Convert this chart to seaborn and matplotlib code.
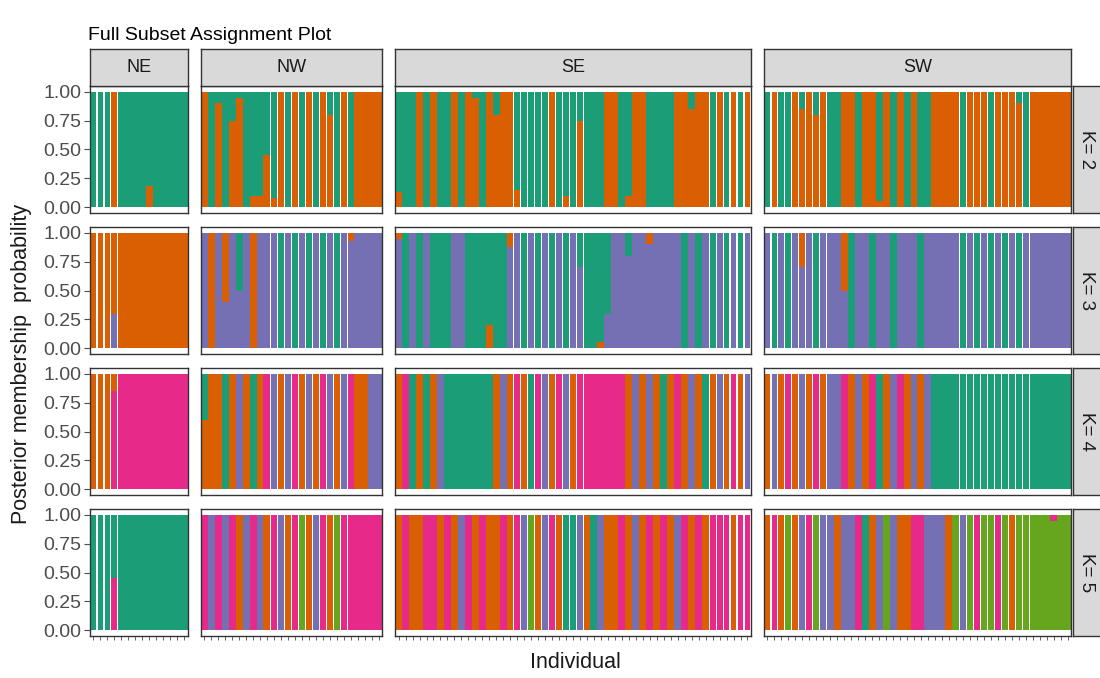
import matplotlib
matplotlib.use("Agg")
import matplotlib.pyplot as plt
import pandas as pd
import seaborn as sns

regions = ["NE", "NW", "SE", "SW"]
k_values = [2, 3, 4, 5]
cluster_colors = ["#1B9E77", "#D95F02", "#7570B3", "#E7298A", "#66A61E"]
y_ticks = [0.0, 0.25, 0.5, 0.75, 1.0]
y_tick_labels = ["0.00", "0.25", "0.50", "0.75", "1.00"]

# Posterior membership of each individual: an int means full membership
# in that cluster, a dict gives the split across clusters.
k2_ne = [1, 1, 1, 2, 1, 1, 1, 1, {1: .82, 2: .18}, 1, 1, 1, 1, 1]
k2_nw = [2, 1, {1: .1, 2: .9}, 1, {1: .25, 2: .75}, {1: .05, 2: .95}, 1,
         {1: .9, 2: .1}, {1: .9, 2: .1}, {1: .55, 2: .45}, {1: .92, 2: .08},
         2, 1, 2, 1, 2, 1, 2, {1: .2, 2: .8}, 1, 2, 1, 2, 2, 2, 2]
k2_se = [{1: .87, 2: .13}, 1, 1, 2, 1, 2, 1, 1, 2, 1, 2, {1: .05, 2: .95}, 1,
         2, {1: .2, 2: .8}, 2, 2, {1: .85, 2: .15}, 1, 1, 1, 1, 2, 1,
         {1: .9, 2: .1}, 1, {1: .25, 2: .75}, 1, 1, 1, 2, 2, 1, {1: .9, 2: .1},
         2, 2, 1, 1, 1, 1, 2, 2, {1: .15, 2: .85}, 2, 2, 1, 2, 1, 2, 1, 2]
k2_sw = [1, 2, 1, 1, 2, {1: .15, 2: .85}, 2, {1: .2, 2: .8}, 2, 1, 1, 2, 2, 1,
         2, 2, {1: .95, 2: .05}, 2, 1, 2, 1, 2, 1, 1, 2, 2, 2, 2, 1, 2, 2, 2, 1,
         2, 2, 2, {1: .1, 2: .9}, 1, 2, 2, 2, 2, 2, 2]

k3_ne = [2, 2, 2, {2: .7, 3: .3}, 2, 2, 2, 2, 2, 2, 2, 2, 2, 2]
k3_nw = [3, 2, 3, {2: .6, 3: .4}, 3, {1: .5, 3: .5}, 3, 2, 3, 3, 3, 1, 3, 1,
         3, 1, 3, 1, 3, 1, 3, {2: .07, 3: .93}, 3, 3, 3, 3]
k3_se = [{2: .05, 3: .95}, 1, 3, 1, 3, 1, 1, 1, 3, 3, 1, 1, 1, {1: .8, 2: .2},
         1, 1, {2: .12, 3: .88}, 3, 1, 3, 1, 3, 1, 3, 1, 3, {1: .3, 3: .7}, 1,
         1, {1: .95, 2: .05}, {1: .7, 3: .3}, 3, 3, {1: .2, 3: .8}, 3, 3,
         {2: .1, 3: .9}, 3, 3, 3, 3, 1, 3, 1, 3, 1, 3, 1, 3, 1, 3]
k3_sw = [3, 1, 3, 1, 3, {2: .3, 3: .7}, 3, 1, 3, 3, 3, {2: .5, 3: .5}, 1, 3,
         3, 1, 3, 3, 1, 3, 3, 3, 1, 3, 3, 3, 3, 3, 1, 3, 1, 3, 1, 3, 1, 3, 1, 3,
         3, 3, 3, 3, 3, 3]

k4_ne = [2, 2, 2, {2: .15, 4: .85}, 4, 4, 4, 4, 4, 4, 4, 4, 4, 4]
k4_nw = [{1: .4, 2: .6}, 2, 2, 1, 2, 3, 2, 1, 2, 4, 3, 2, 3, 4, 2, 3, 2, 4, 3,
         2, 3, 4, 2, 2, 3, 3]
k4_se = [2, 4, 1, 2, 1, 2, 3, 1, 1, 1, 1, 1, 1, 1, 2, 3, 2, 4, 2, 1, 4, 3, 2,
         4, 3, 2, 4, 4, 4, 4, 4, 4, 4, 2, 3, 2, 3, 2, 1, 2, 4, 2, 3, 2, 1, 2, 3,
         2, 4, 2, 3]
k4_sw = [2, 3, 2, 4, 2, 3, 2, 4, 2, 3, 3, 4, 2, 3, 2, 4, 1, 2, 3, 4, 2, 3, 2,
         3, 1, 1, 1, 1, 1, 1, 1, 1, 1, 1, 1, 1, 1, 1, 1, 1, 1, 1, 1, 1]

k5_ne = [1, 1, 1, {1: .55, 4: .45}, 1, 1, 1, 1, 1, 1, 1, 1, 1, 1]
k5_nw = [4, 3, 4, 3, 4, 2, 3, 4, 3, 2, 4, 3, 2, 4, 5, 2, 3, 4, 2, 5, 4, 4, 4,
         4, 4, 4]
k5_se = [2, 4, 2, 2, 4, 4, 2, 4, 2, 3, 4, 2, 4, 2, 2, 4, 2, 4, 3, 5, 2, 3, 4,
         2, 1, 1, 3, 2, 1, 3, 2, 2, 4, 2, 3, 2, 4, 2, 4, 2, 3, 4, 2, 4, 2, 4, 4,
         4, 2, 4, 4]
k5_sw = [2, 4, 2, 5, 2, 3, 4, 5, 3, 3, 2, 3, 3, 4, 1, 2, 3, 5, 3, 2, 2, 4, 4,
         3, 3, 3, 2, 5, 3, 5, 4, 5, 5, 4, 5, 2, 5, 5, 5, 5, 5, {4: .05, 5: .95},
         5, 5]

membership = {
    2: {"NE": k2_ne, "NW": k2_nw, "SE": k2_se, "SW": k2_sw},
    3: {"NE": k3_ne, "NW": k3_nw, "SE": k3_se, "SW": k3_sw},
    4: {"NE": k4_ne, "NW": k4_nw, "SE": k4_se, "SW": k4_sw},
    5: {"NE": k5_ne, "NW": k5_nw, "SE": k5_se, "SW": k5_sw},
}

# Individuals whose bars render with a thin white seam on each side
seamed = {
    "NE": list(range(1, 5)),
    "NW": list(range(11, 23)),
    "SE": list(range(17, 28)) + list(range(46, 52)),
    "SW": list(range(1, 10)) + list(range(29, 40)),
}


def long_table(k, region):
    rows = []
    for i, entry in enumerate(membership[k][region], start=1):
        split = {entry: 1.0} if isinstance(entry, int) else entry
        for c in range(1, k + 1):
            rows.append({"individual": i, "cluster": c, "q": split.get(c, 0.0)})
    return pd.DataFrame(rows)


sns.set_theme(style="white")
plt.rcParams["font.family"] = ["Liberation Sans", "DejaVu Sans"]

W, H = 1100, 678
fig = plt.figure(figsize=(W / 100, H / 100), dpi=100)

counts = {r: len(membership[2][r]) for r in regions}
left_px, right_px, gap_px = 90, 1071, 13
unit = (right_px - left_px - gap_px * (len(regions) - 1)) / sum(counts.values())
row_top0, row_h, row_pitch = 86, 127, 141
strip_h, rstrip_w = 37, 30
edge = "#333333"
text_dark = "#1A1A1A"
tick_col = "#4D4D4D"


def fig_rect(x, y, w, h):
    return [x / W, 1 - (y + h) / H, w / W, h / H]


col_left = {}
x = left_px
for r in regions:
    col_left[r] = x
    x += counts[r] * unit + gap_px

for ri, k in enumerate(k_values):
    top = row_top0 + ri * row_pitch
    levels = list(range(1, k + 1))
    pal = {c: cluster_colors[c - 1] for c in levels}
    for ci, region in enumerate(regions):
        n = counts[region]
        w = n * unit
        ax = fig.add_axes(fig_rect(col_left[region], top, w, row_h))
        df = long_table(k, region)
        is_seamed = df["individual"].isin(seamed[region])
        for part, shrink in ((df[~is_seamed], 1.0), (df[is_seamed], 0.84)):
            if part.empty:
                continue
            sns.histplot(data=part, x="individual", weights="q", hue="cluster",
                         hue_order=levels, palette=pal, multiple="stack",
                         discrete=True, shrink=shrink, linewidth=0, alpha=1,
                         antialiased=False, legend=False, ax=ax)
        ax.set_xlim(0.5, n + 0.5)
        ax.set_ylim(-0.05, 1.05)
        ax.set_xlabel("")
        ax.set_ylabel("")
        for sp in ax.spines.values():
            sp.set_visible(True)
            sp.set_color(edge)
            sp.set_linewidth(1.0)
        ax.set_facecolor("white")
        ax.grid(False)
        if ri == len(k_values) - 1:
            ax.set_xticks(range(1, n + 1))
            ax.set_xticklabels([])
            ax.tick_params(axis="x", bottom=True, length=3, width=0.6,
                           color=tick_col)
        else:
            ax.set_xticks([])
        if ci == 0:
            ax.set_yticks(y_ticks)
            ax.set_yticklabels(y_tick_labels)
            ax.tick_params(axis="y", left=True, length=4, width=0.8,
                           color=tick_col, labelsize=14, labelcolor=tick_col,
                           pad=2)
        else:
            ax.set_yticks([])

        if ri == 0:
            sax = fig.add_axes(fig_rect(col_left[region], top - strip_h,
                                        w, strip_h))
            sax.set_facecolor("#D9D9D9")
            sax.set_xticks([])
            sax.set_yticks([])
            for sp in sax.spines.values():
                sp.set_color(edge)
                sp.set_linewidth(1.0)
            sax.text(0.5, 0.5, region, ha="center", va="center",
                     fontsize=13, color=text_dark, transform=sax.transAxes)

    rax = fig.add_axes(fig_rect(right_px + 2, top, rstrip_w, row_h))
    rax.set_facecolor("#D9D9D9")
    rax.set_xticks([])
    rax.set_yticks([])
    for sp in rax.spines.values():
        sp.set_color(edge)
        sp.set_linewidth(1.0)
    rax.text(0.45, 0.5, f"K= {k}", ha="center", va="center", rotation=-90,
             fontsize=13.5, color=text_dark, transform=rax.transAxes)

fig.text(88 / W, 1 - 36 / H, "Full Subset Assignment Plot", ha="left",
         va="center", fontsize=14, color="black")
fig.text(22 / W, 1 - 364 / H, "Posterior membership  probability",
         rotation=90, ha="center", va="center", fontsize=15.5, color=text_dark)
fig.text(575 / W, 1 - 663 / H, "Individual", ha="center", va="center",
         fontsize=15.5, color=text_dark)

fig.savefig("out.png", dpi=100, facecolor="white")
